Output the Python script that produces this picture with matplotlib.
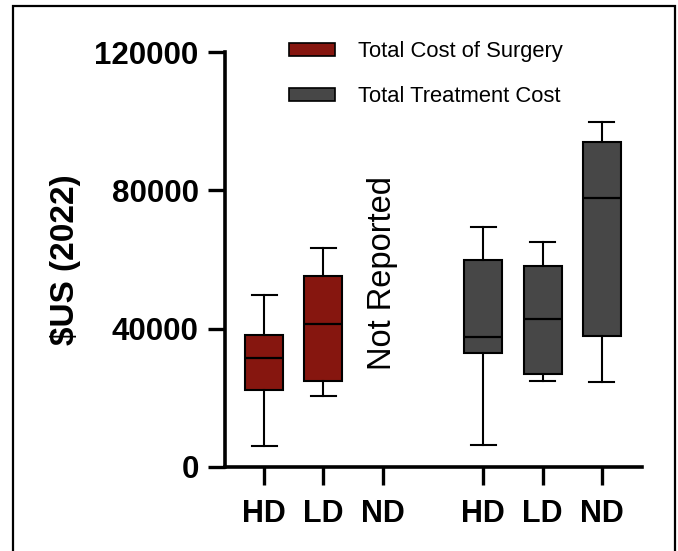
# -*- coding: utf-8 -*-
"""
Box plots of surgery cost and total treatment cost by group
"""
import matplotlib.pyplot as plt
from matplotlib.patches import Rectangle, Patch

groups = ['HD', 'LD', 'ND']

# Total cost of surgery (ND not reported)
surgery_low = [6100, 20600]
surgery_q1 = [22300, 24900]
surgery_med = [31500, 41400]
surgery_q3 = [38300, 55300]
surgery_high = [49700, 63400]

# Total treatment cost
treat_low = [6400, 24900, 24600]
treat_q1 = [33000, 26900, 37900]
treat_med = [37600, 42800, 77700]
treat_q3 = [59900, 58200, 94000]
treat_high = [69300, 65200, 99800]

surgery_pos = [1, 2, 3]
treat_pos = [4.7, 5.7, 6.7]

red = '#86160f'
gray = '#474747'

plt.rcParams['font.family'] = ['Liberation Sans', 'DejaVu Sans']

fig = plt.figure(figsize=(6.78, 5.51), dpi=100)
ax = fig.add_axes([0.332, 0.1525, 0.615, 0.7531])


def make_stats(low, q1, med, q3, high):
    return [dict(whislo=a, q1=b, med=c, q3=d, whishi=e, fliers=[])
            for a, b, c, d, e in zip(low, q1, med, q3, high)]


box_kw = dict(widths=0.64, patch_artist=True, showfliers=False,
              medianprops=dict(color='black', linewidth=1.6),
              whiskerprops=dict(color='black', linewidth=1.5),
              capprops=dict(color='black', linewidth=1.5),
              capwidths=0.42)

b1 = ax.bxp(make_stats(surgery_low, surgery_q1, surgery_med, surgery_q3, surgery_high),
            positions=surgery_pos[:2], boxprops=dict(facecolor=red, edgecolor='black', linewidth=1.5),
            **box_kw)
b2 = ax.bxp(make_stats(treat_low, treat_q1, treat_med, treat_q3, treat_high),
            positions=treat_pos, boxprops=dict(facecolor=gray, edgecolor='black', linewidth=1.5),
            **box_kw)

ax.text(surgery_pos[2], 56000, 'Not Reported', rotation=90, ha='center', va='center',
        fontsize=23.5, color='black')

ax.set_xlim(0.34, 7.38)
ax.set_ylim(0, 120000)
ax.set_yticks([0, 40000, 80000, 120000])
ax.set_yticklabels(['0', '40000', '80000', '120000'], fontsize=22.5, fontweight='bold')
ax.set_xticks(surgery_pos + treat_pos)
ax.set_xticklabels(groups + groups, fontsize=22, fontweight='bold')
ax.set_ylabel('$US (2022)', fontsize=24, fontweight='bold', labelpad=9.5)

for s in ['top', 'right']:
    ax.spines[s].set_visible(False)
for s in ['left', 'bottom']:
    ax.spines[s].set_linewidth(2.6)
ax.tick_params(axis='y', length=12, width=2.4, pad=7)
ax.tick_params(axis='x', length=13, width=2.4, pad=10)

# legend
handles = [Patch(facecolor=red, edgecolor='black', linewidth=1.2, label='Total Cost of Surgery'),
           Patch(facecolor=gray, edgecolor='black', linewidth=1.2, label='Total Treatment Cost')]
ax.legend(handles=handles, loc='upper left', bbox_to_anchor=(0.105, 1.073), frameon=False,
          fontsize=15.8, handlelength=2.1, handleheight=0.5, handletextpad=1.05,
          labelspacing=1.08)

# outer frame
fig.add_artist(Rectangle((13 / 678, -0.1), 662 / 678, 1.1 - 6 / 551, fill=False,
                         linewidth=1.6, edgecolor='black', transform=fig.transFigure))

plt.savefig('out.png', dpi=100)
